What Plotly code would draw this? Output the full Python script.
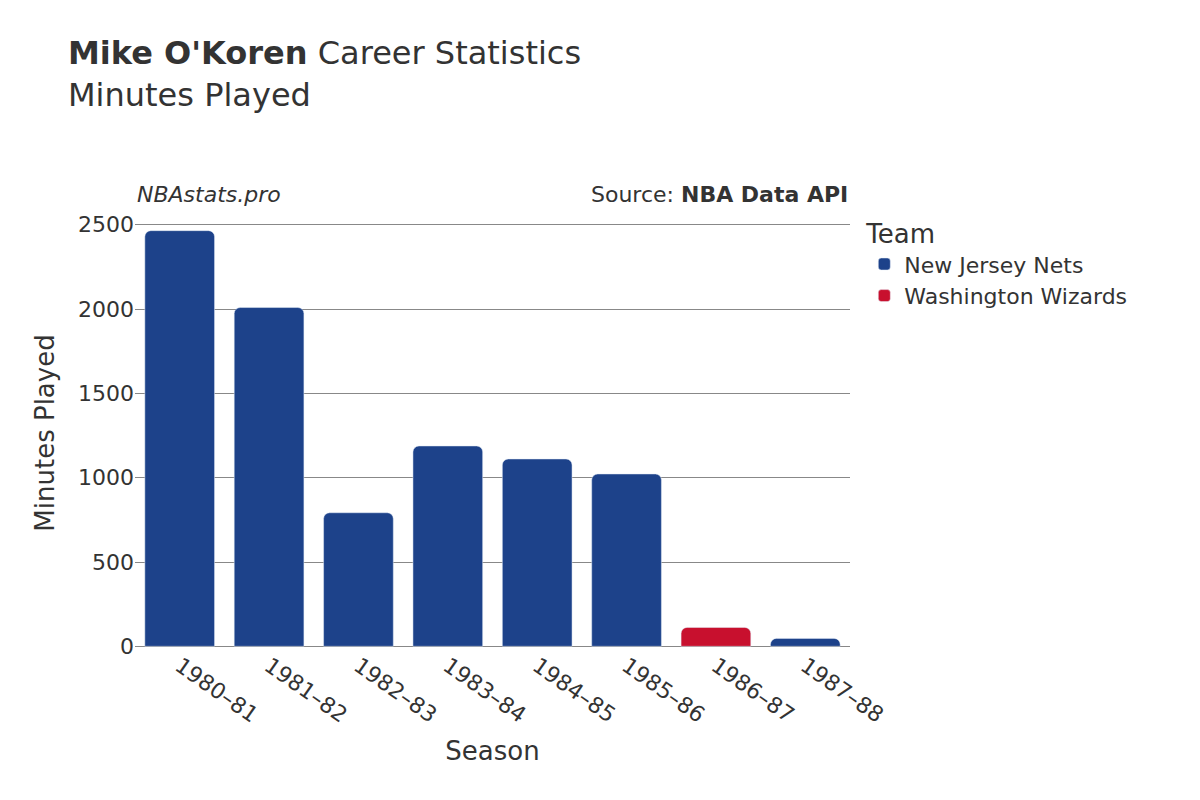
import plotly.graph_objects as go

seasons = ["1980–81","1981–82","1982–83","1983–84","1984–85","1985–86","1986–87","1987–88"]
nets_seasons = ["1980–81","1981–82","1982–83","1983–84","1984–85","1985–86","1987–88"]
nets_minutes = [2465, 2009, 792, 1188, 1111, 1022, 47]
wiz_seasons = ["1986–87"]
wiz_minutes = [112]

fig = go.Figure()
fig.add_bar(x=nets_seasons, y=nets_minutes, name="New Jersey Nets", marker_color="#1D428A")
fig.add_bar(x=wiz_seasons, y=wiz_minutes, name="Washington Wizards", marker_color="#C8102E")

fig.update_layout(
    width=1200, height=800, barmode="overlay", barcornerradius=6, bargap=0.22,
    font=dict(family="DejaVu Sans", color="#333", size=22),
    plot_bgcolor="white", paper_bgcolor="white",
    margin=dict(l=127, r=358, t=210, b=160),
    title=dict(text="<b>Mike O'Koren</b> Career Statistics<br>Minutes Played", x=0.05, xanchor="left", y=0.93, yanchor="top", font=dict(size=32)),
    legend=dict(title=dict(text="Team", font=dict(size=26)), x=1.02, y=1.02, yanchor="top", font=dict(size=22)),
    xaxis=dict(title=dict(text="Season", font=dict(size=26)), categoryorder="array", categoryarray=seasons, tickangle=35, showgrid=False, tickfont=dict(size=22)),
    yaxis=dict(title=dict(text="Minutes Played", font=dict(size=26)), range=[-10, 2540], tickvals=[0,500,1000,1500,2000,2500], gridcolor="#888", zeroline=False, tickfont=dict(size=22)),
    annotations=[
        dict(text="<i>NBAstats.pro</i>", xref="paper", yref="paper", x=0, y=1.02, xanchor="left", yanchor="bottom", showarrow=False, font=dict(size=22)),
        dict(text="Source: <b>NBA Data API</b>", xref="paper", yref="paper", x=1, y=1.02, xanchor="right", yanchor="bottom", showarrow=False, font=dict(size=22)),
    ],
)
fig.write_html("out.html")
